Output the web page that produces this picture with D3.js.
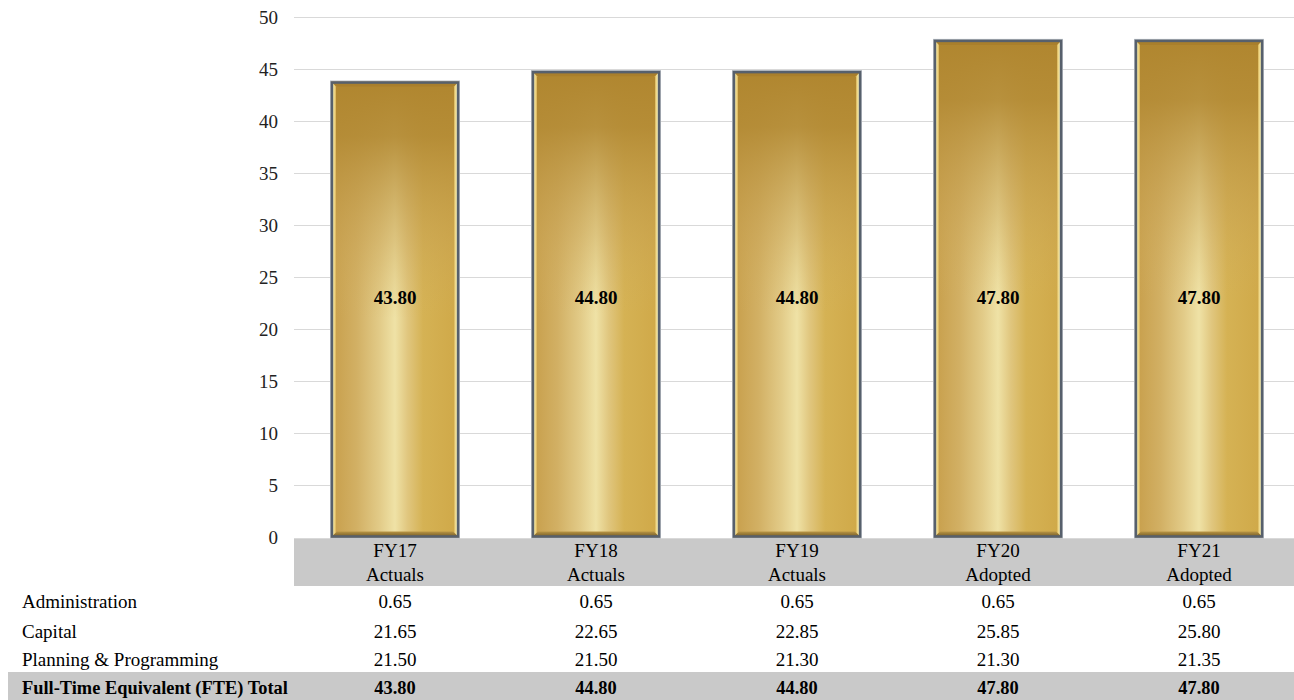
<!DOCTYPE html>
<html>
<head>
<meta charset="utf-8">
<script src="https://cdn.jsdelivr.net/npm/d3@7"></script>
<style>
  body { margin: 0; background: #fff; }
  svg text { font-family: "Liberation Serif", "Times New Roman", "DejaVu Serif", serif; }
</style>
</head>
<body>
<svg id="chart" width="1294" height="700"></svg>
<script>
// ---- data ----
const categories = ["FY17", "FY18", "FY19", "FY20", "FY21"];
const categoryStatus = ["Actuals", "Actuals", "Actuals", "Adopted", "Adopted"];
const administration = [0.65, 0.65, 0.65, 0.65, 0.65];
const capital = [21.65, 22.65, 22.85, 25.85, 25.80];
const planning = [21.50, 21.50, 21.30, 21.30, 21.35];
const fteTotal = [43.80, 44.80, 44.80, 47.80, 47.80];
const yTicks = [0, 5, 10, 15, 20, 25, 30, 35, 40, 45, 50];
const rowLabels = ["Administration", "Capital", "Planning & Programming", "Full-Time Equivalent (FTE) Total"];

const SERIF = "'Liberation Serif', 'Times New Roman', 'DejaVu Serif', serif";
const FS = "19px";
const FS_BOLD = "18.4px";
const svg = d3.select("#chart").attr("font-family", SERIF);
const W = 1294;

// ---- scales ----
const x = d3.scaleBand()
  .domain(categories)
  .range([294.5, 1299.5])
  .paddingInner(73 / 201)
  .paddingOuter(73 / 402);
const y = d3.scaleLinear().domain([0, 50]).range([537.5, 17]);
const fmt = d3.format(".2f");

// ---- gradients ----
const defs = svg.append("defs");
const hg = defs.append("linearGradient").attr("id", "goldH")
  .attr("x1", 0).attr("y1", 0).attr("x2", 1).attr("y2", 0);
[["0%", "#c79e4a"], ["20%", "#d2b064"], ["38%", "#e2cb88"], ["50%", "#efe2a6"],
 ["60%", "#e0c67e"], ["72%", "#d5b254"], ["100%", "#cfa848"]]
  .forEach(([o, c]) => hg.append("stop").attr("offset", o).attr("stop-color", c));

const vg = defs.append("linearGradient").attr("id", "goldV")
  .attr("x1", 0).attr("y1", 0).attr("x2", 0).attr("y2", 1);
[["0%", "#b0862f", 1], ["12%", "#b38a34", 0.92], ["35%", "#c6a050", 0.45], ["52%", "#d2b060", 0]]
  .forEach(([o, c, a]) => vg.append("stop").attr("offset", o).attr("stop-color", c).attr("stop-opacity", a));

const lg = defs.append("linearGradient").attr("id", "bevelL")
  .attr("x1", 0).attr("y1", 0).attr("x2", 1).attr("y2", 0);
[["0%", "#f2cf60"], ["45%", "#fff1a8"], ["100%", "#d9b257"]]
  .forEach(([o, c]) => lg.append("stop").attr("offset", o).attr("stop-color", c));

const rg = defs.append("linearGradient").attr("id", "bevelR")
  .attr("x1", 0).attr("y1", 0).attr("x2", 1).attr("y2", 0);
[["0%", "#d8b458"], ["50%", "#fff3b0"], ["100%", "#f0d070"]]
  .forEach(([o, c]) => rg.append("stop").attr("offset", o).attr("stop-color", c));

const bg = defs.append("linearGradient").attr("id", "bevelB")
  .attr("x1", 0).attr("y1", 0).attr("x2", 0).attr("y2", 1);
[["0%", "#b89545"], ["100%", "#6a5220"]]
  .forEach(([o, c]) => bg.append("stop").attr("offset", o).attr("stop-color", c));

// ---- gridlines ----
svg.append("g").selectAll("line")
  .data(yTicks)
  .join("line")
  .attr("x1", 294).attr("x2", W)
  .attr("y1", d => Math.round(y(d)) + 0.5).attr("y2", d => Math.round(y(d)) + 0.5)
  .attr("stroke", "#d9d9d9").attr("stroke-width", 1.2);

// ---- y axis ----
const yAxis = svg.append("g")
  .attr("transform", "translate(294,0)")
  .call(d3.axisLeft(y).tickValues(yTicks).tickSize(0).tickPadding(16));
yAxis.attr("font-family", SERIF).attr("font-size", FS);
yAxis.select(".domain").remove();
yAxis.selectAll("text").attr("fill", "#222");

// ---- table header band ----
svg.append("rect").attr("x", 294).attr("y", 539).attr("width", W - 294).attr("height", 47)
  .attr("fill", "#c9c9c9");

// ---- bars ----
const bevel = 5;
const bars = svg.append("g").selectAll("g")
  .data(categories.map((c, i) => ({ c, v: fteTotal[i] })))
  .join("g");

bars.each(function (d) {
  const g = d3.select(this);
  const x0 = x(d.c), w = x.bandwidth();
  const y0 = y(d.v), h = y(0) - y(d.v);
  const x1 = x0 + w, y1 = y0 + h;
  g.append("rect").attr("x", x0).attr("y", y0).attr("width", w).attr("height", h).attr("fill", "url(#goldH)");
  g.append("rect").attr("x", x0).attr("y", y0).attr("width", w).attr("height", h).attr("fill", "url(#goldV)");
  // top bevel
  g.append("polygon")
    .attr("points", [[x0, y0], [x1, y0], [x1 - bevel, y0 + bevel], [x0 + bevel, y0 + bevel]].join(" "))
    .attr("fill", "#a97f2c");
  // left bevel
  g.append("polygon")
    .attr("points", [[x0, y0], [x0 + bevel, y0 + bevel], [x0 + bevel, y1 - bevel], [x0, y1]].join(" "))
    .attr("fill", "url(#bevelL)");
  // right bevel
  g.append("polygon")
    .attr("points", [[x1, y0], [x1, y1], [x1 - bevel, y1 - bevel], [x1 - bevel, y0 + bevel]].join(" "))
    .attr("fill", "url(#bevelR)");
  // bottom bevel
  g.append("polygon")
    .attr("points", [[x0, y1], [x0 + bevel + 1, y1 - bevel - 1], [x1 - bevel - 1, y1 - bevel - 1], [x1, y1]].join(" "))
    .attr("fill", "url(#bevelB)");
  // frame
  g.append("rect").attr("x", x0 - 0.5).attr("y", y0 - 0.5).attr("width", w + 1).attr("height", h + 1)
    .attr("fill", "none").attr("stroke", "#b4bac2").attr("stroke-width", 1);
  g.append("rect").attr("x", x0 + 1).attr("y", y0 + 1).attr("width", w - 2).attr("height", h - 2)
    .attr("fill", "none").attr("stroke", "#57606c").attr("stroke-width", 2.5);
});

// ---- value labels ----
svg.append("g").selectAll("text")
  .data(categories.map((c, i) => ({ c, v: fteTotal[i] })))
  .join("text")
  .attr("x", d => x(d.c) + x.bandwidth() / 2)
  .attr("y", 297)
  .attr("text-anchor", "middle").attr("dominant-baseline", "central")
  .attr("font-size", FS).attr("font-weight", "bold").attr("fill", "#000")
  .text(d => fmt(d.v));

// ---- table ----
const cx = c => x(c) + x.bandwidth() / 2;
const header = svg.append("g").attr("font-size", FS).attr("fill", "#000").attr("text-anchor", "middle");
header.selectAll("text.fy").data(categories).join("text").attr("class", "fy")
  .attr("x", cx).attr("y", 550).attr("dominant-baseline", "central").text(d => d);
header.selectAll("text.st").data(categories.map((c, i) => ({ c, s: categoryStatus[i] }))).join("text").attr("class", "st")
  .attr("x", d => cx(d.c)).attr("y", 574).attr("dominant-baseline", "central").text(d => d.s);

svg.append("rect").attr("x", 8).attr("y", 672).attr("width", W - 8).attr("height", 28).attr("fill", "#c9c9c9");

const rows = [administration, capital, planning, fteTotal];
const rowY = [601, 631, 659, 688];
rows.forEach((vals, r) => {
  const isTotal = r === rows.length - 1;
  const weight = isTotal ? "bold" : "normal";
  const size = isTotal ? FS_BOLD : FS;
  svg.append("text").attr("x", 22).attr("y", rowY[r]).attr("dominant-baseline", "central")
    .attr("font-size", size).attr("font-weight", weight).attr("fill", "#000").text(rowLabels[r]);
  svg.append("g").selectAll("text").data(categories.map((c, i) => ({ c, v: vals[i] }))).join("text")
    .attr("x", d => cx(d.c)).attr("y", rowY[r]).attr("text-anchor", "middle").attr("dominant-baseline", "central")
    .attr("font-size", size).attr("font-weight", weight).attr("fill", "#000").text(d => fmt(d.v));
});
</script>
</body>
</html>
